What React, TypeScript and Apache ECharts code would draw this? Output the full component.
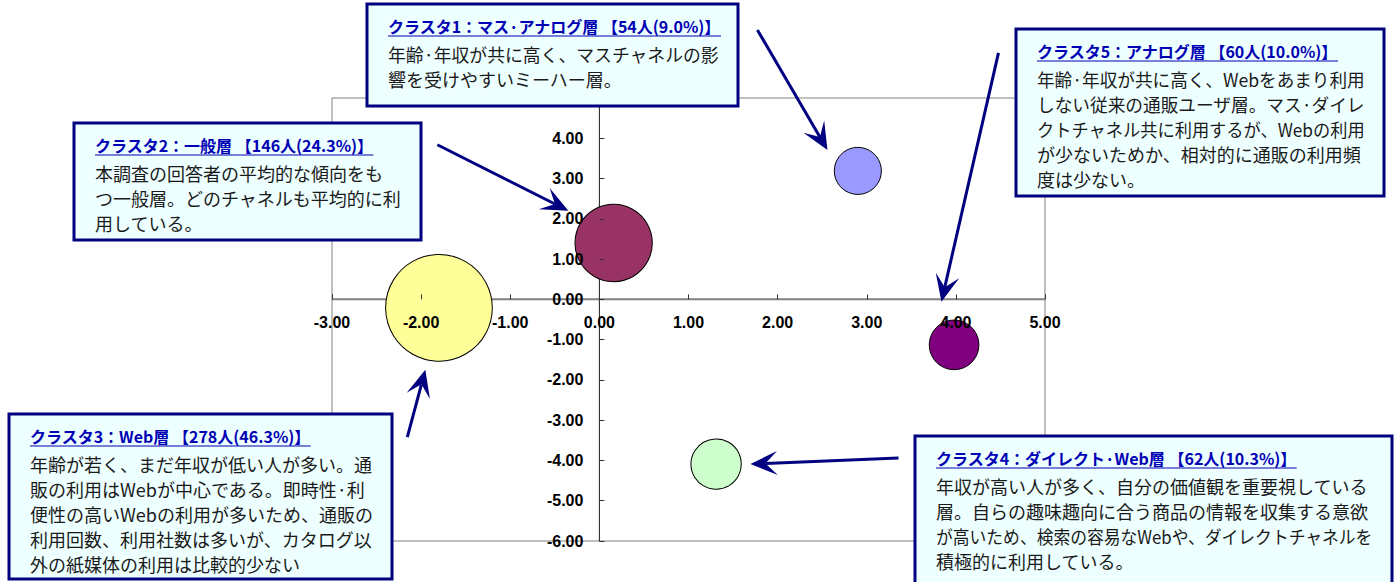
import React, { useEffect, useRef } from 'react';
import * as echarts from 'echarts';

// Cluster positions on the two principal axes, member counts and colours
const clusterNames = ['クラスタ1', 'クラスタ2', 'クラスタ3', 'クラスタ4', 'クラスタ5'];
const clusterX = [2.9, 0.16, -1.8, 1.31, 3.98];
const clusterY = [3.19, 1.4, -0.21, -4.09, -1.13];
const clusterCounts = [54, 146, 278, 62, 60];
const clusterColors = ['#9999FF', '#993366', '#FFFF99', '#CCFFCC', '#800080'];

// Axis ranges
const xRange = [-3, 5];
const yRange = [-6, 5];
const tickStep = 1;

// Callout texts
const calloutTitles = [
  'クラスタ1：マス·アナログ層 【54人(9.0%)】',
  'クラスタ2：一般層 【146人(24.3%)】',
  'クラスタ3：Web層 【278人(46.3%)】',
  'クラスタ4：ダイレクト·Web層 【62人(10.3%)】',
  'クラスタ5：アナログ層 【60人(10.0%)】',
];
const calloutBodies = [
  ['年齢·年収が共に高く、マスチャネルの影', '響を受けやすいミーハー層。'],
  ['本調査の回答者の平均的な傾向をも', 'つ一般層。どのチャネルも平均的に利', '用している。'],
  [
    '年齢が若く、まだ年収が低い人が多い。通',
    '販の利用はWebが中心である。即時性·利',
    '便性の高いWebの利用が多いため、通販の',
    '利用回数、利用社数は多いが、カタログ以',
    '外の紙媒体の利用は比較的少ない',
  ],
  [
    '年収が高い人が多く、自分の価値観を重要視している',
    '層。自らの趣味趣向に合う商品の情報を収集する意欲',
    'が高いため、検索の容易なWebや、ダイレクトチャネルを',
    '積極的に利用している。',
  ],
  [
    '年齢·年収が共に高く、Webをあまり利用',
    'しない従来の通販ユーザ層。マス·ダイレ',
    'クトチャネル共に利用するが、Webの利用',
    'が少ないためか、相対的に通販の利用頻',
    '度は少ない。',
  ],
];
// Callout boxes in page pixels: [left, top, width, height]
const calloutBoxes = [
  [367, 4, 371, 102],
  [74, 123, 347, 117],
  [9, 414, 383, 165],
  [915, 436, 477, 160],
  [1016, 29, 368, 167],
];
// Arrow start and tip, in data units
const arrowFrom = [
  [1.773, 6.69],
  [-1.818, 3.84],
  [-2.155, -3.42],
  [3.356, -3.94],
  [4.478, 6.12],
];
const arrowTo = [
  [2.559, 3.71],
  [-0.348, 2.2],
  [-1.953, -1.75],
  [1.695, -4.09],
  [3.838, -0.06],
];

const NAVY = '#000080';
const JP_FONT = '"Noto Sans CJK JP", "Noto Sans", sans-serif';
const AXIS_FONT = '"Liberation Sans", Arial, sans-serif';
const PAD = 21;

function measure(text: string, font: string): number {
  const ctx = document.createElement('canvas').getContext('2d');
  if (!ctx) return text.length * 14;
  ctx.font = font;
  return ctx.measureText(text).width;
}

export default function App() {
  const ref = useRef<HTMLDivElement>(null);

  useEffect(() => {
    if (!ref.current) return;
    const chart = echarts.init(ref.current, undefined, { renderer: 'svg' });

    const axisLabel = {
      fontFamily: AXIS_FONT,
      fontWeight: 'bold' as const,
      fontSize: 16,
      color: '#000',
      formatter: (v: number) => v.toFixed(2),
    };

    chart.setOption({
      animation: false,
      backgroundColor: '#fff',
      grid: {
        left: 332,
        right: 353,
        top: 98,
        bottom: 41,
        show: true,
        borderColor: '#808080',
        borderWidth: 1,
        backgroundColor: 'transparent',
      },
      xAxis: {
        type: 'value',
        position: 'bottom',
        min: xRange[0],
        max: xRange[1],
        interval: tickStep,
        z: 5,
        axisLine: { show: false, onZero: false },
        axisTick: { show: true, inside: true, length: 5, lineStyle: { color: '#333' } },
        axisLabel: { ...axisLabel, margin: 15, showMinLabel: true, showMaxLabel: true },
        splitLine: { show: false },
      },
      yAxis: {
        type: 'value',
        position: 'left',
        min: yRange[0],
        max: yRange[1],
        interval: tickStep,
        z: 5,
        axisLine: { show: false, onZero: false },
        axisTick: { show: true, inside: true, length: 5, lineStyle: { color: '#333' } },
        axisLabel: { ...axisLabel, margin: 16 },
        splitLine: { show: false },
      },
      series: [
        {
          type: 'scatter',
          clip: false,
          symbolSize: (v: number[]) => 6.4 * Math.sqrt(v[2]),
          data: clusterNames.map((name, i) => ({
            name,
            value: [clusterX[i], clusterY[i], clusterCounts[i]],
            itemStyle: {
              color: clusterColors[i],
              borderColor: '#000',
              borderWidth: 1,
              opacity: 1,
            },
          })),
        },
      ],
    });

    const toPx = (p: number[]) => chart.convertToPixel({ gridIndex: 0 }, p) as number[];

    // Shift both axes so that they cross at the origin
    const origin = toPx([0, 0]);
    const plotLeft = toPx([xRange[0], 0])[0];
    const plotBottom = toPx([0, yRange[0]])[1];

    const graphics: any[] = [];

    // Axis lines crossing at the origin, kept beneath the bubbles
    const xa = toPx([xRange[0], 0]);
    const xb = toPx([xRange[1], 0]);
    graphics.push({
      type: 'line',
      z: 1,
      shape: { x1: xa[0], y1: xa[1], x2: xb[0], y2: xb[1] },
      style: { stroke: '#808080', lineWidth: 2 },
    });
    const ya = toPx([0, yRange[1]]);
    const yb = toPx([0, yRange[0]]);
    graphics.push({
      type: 'line',
      z: 1,
      shape: { x1: ya[0], y1: ya[1], x2: yb[0], y2: yb[1] },
      style: { stroke: '#1a1a1a', lineWidth: 1 },
    });

    // Callout boxes
    const titleFont = `bold 16px ${JP_FONT}`;
    const bodyFont = `18px ${JP_FONT}`;
    calloutBoxes.forEach((b, i) => {
      const [left, top, w, h] = b;
      const maxW = w - 2 * PAD + 2;
      graphics.push({
        type: 'rect',
        z: 20,
        shape: { x: left, y: top, width: w, height: h },
        style: { fill: '#EEFFFF', stroke: NAVY, lineWidth: 3 },
      });
      const tx = left + PAD;
      const ty = top + 22;
      graphics.push({
        type: 'text',
        z: 21,
        x: tx,
        y: ty,
        style: {
          text: calloutTitles[i],
          fontFamily: JP_FONT,
          fontWeight: 'bold',
          fontSize: 16,
          fill: '#0000B4',
          align: 'left',
          verticalAlign: 'middle',
        },
      });
      const tw = measure(calloutTitles[i], titleFont);
      graphics.push({
        type: 'line',
        z: 21,
        shape: { x1: tx, y1: ty + 10, x2: tx + tw, y2: ty + 10 },
        style: { stroke: '#0000B4', lineWidth: 1.2 },
      });
      calloutBodies[i].forEach((line, j) => {
        const lw = measure(line, bodyFont);
        const sx = lw > maxW ? maxW / lw : 1;
        graphics.push({
          type: 'text',
          z: 21,
          x: tx,
          y: ty + 28 + j * 25,
          scaleX: sx,
          style: {
            text: line,
            fontFamily: JP_FONT,
            fontSize: 18,
            fill: '#1a1a1a',
            align: 'left',
            verticalAlign: 'middle',
          },
        });
      });
    });

    // Arrows pointing from each callout to its bubble
    arrowFrom.forEach((from, i) => {
      const s = toPx(from);
      const t = toPx(arrowTo[i]);
      const dx = t[0] - s[0];
      const dy = t[1] - s[1];
      const len = Math.hypot(dx, dy);
      const ux = dx / len;
      const uy = dy / len;
      const nx = -uy;
      const ny = ux;
      const L = 27;
      const W = 12;
      const N = 15;
      const bx = t[0] - ux * L;
      const by = t[1] - uy * L;
      const mx = t[0] - ux * N;
      const my = t[1] - uy * N;
      graphics.push({
        type: 'line',
        z: 22,
        shape: { x1: s[0], y1: s[1], x2: mx, y2: my },
        style: { stroke: NAVY, lineWidth: 3 },
      });
      graphics.push({
        type: 'polygon',
        z: 22,
        shape: {
          points: [
            [t[0], t[1]],
            [bx + nx * W, by + ny * W],
            [mx, my],
            [bx - nx * W, by - ny * W],
          ],
        },
        style: { fill: NAVY },
      });
    });

    chart.setOption({
      xAxis: { offset: origin[1] - plotBottom },
      yAxis: { offset: plotLeft - origin[0] },
      graphic: graphics,
    });

    return () => chart.dispose();
  }, []);

  return (
    <div
      ref={ref}
      style={{ position: 'fixed', left: 0, top: 0, width: 1398, height: 582 }}
    />
  );
}
